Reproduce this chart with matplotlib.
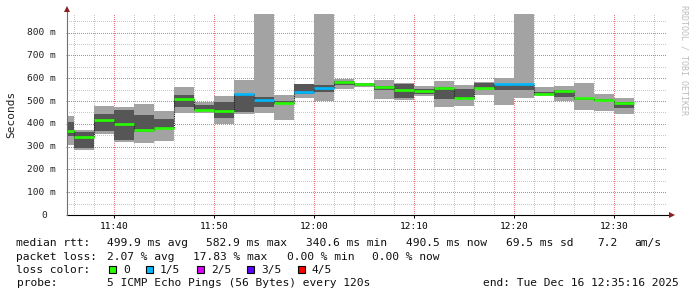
import matplotlib
matplotlib.use('Agg')
from matplotlib import pyplot as plt
from matplotlib.patches import Rectangle
from matplotlib.transforms import offset_copy
import numpy as np

# time window of the graph and bar (2 min step) edges
t_start = "11:35:16"
t_end = "12:35:16"
edges = ["11:35:16", "11:36", "11:38", "11:40", "11:42", "11:44", "11:46", "11:48",
         "11:50", "11:52", "11:54", "11:56", "11:58", "12:00", "12:02", "12:04",
         "12:06", "12:08", "12:10", "12:12", "12:14", "12:16", "12:18", "12:20",
         "12:22", "12:24", "12:26", "12:28", "12:30", "12:32"]

# smoke: sorted pings (ms), median in the middle
rtt_min = [307, 285, 355, 320, 316, 326, 449, 449, 400, 444, 449, 417, 515, 500, 551,
           560, 510, 506, 524, 475, 478, 528, 483, 515, 522, 501, 462, 458, 445]
rtt_lo = [345, 295, 367, 329, 364, 376, 475, 455, 427, 453, 475, 487, 530, 540, 570,
          565, 549, 515, 530, 508, 508, 554, 548, 549, 530, 519, 505, 500, 471]
rtt_med = [368, 341, 417, 399, 372, 382, 511, 462, 455, 530, 506, 492, 538, 555, 584,
           573, 563, 549, 546, 559, 512, 559, 573, 573, 531, 546, 512, 506, 493]
rtt_hi = [409, 363, 443, 461, 439, 421, 527, 483, 495, 532, 519, 498, 575, 572, 590,
          577, 567, 575, 551, 563, 553, 581, 575, 575, 539, 547, 515, 510, 495]
rtt_max = [434, 373, 479, 473, 487, 456, 562, 496, 522, 592, 1000, 527, 576, 1000, 597,
           581, 592, 579, 566, 588, 570, 584, 601, 1000, 561, 566, 580, 531, 513]
loss = [0, 0, 0, 0, 0, 0, 0, 0, 0, 1, 1, 0, 1, 1, 0,
        0, 0, 0, 0, 0, 0, 0, 1, 1, 0, 0, 0, 0, 0]

loss_names = ["0", "1/5", "2/5", "3/5", "4/5"]
loss_colors = ["#26ff00", "#00b8ff", "#dd00ff", "#5e00ff", "#ff0000"]

x_labels = ["11:40", "11:50", "12:00", "12:10", "12:20", "12:30"]
y_ticks = [0, 100, 200, 300, 400, 500, 600, 700, 800]
y_labels = ["0", "100 m", "200 m", "300 m", "400 m", "500 m", "600 m", "700 m", "800 m"]


def mins(t):
    p = [int(v) for v in t.split(':')]
    return p[0] * 60 + p[1] + (p[2] / 60.0 if len(p) > 2 else 0)


W, H = 697, 297
MONO = 'DejaVu Sans Mono'
fig = plt.figure(figsize=(W / 100, H / 100), dpi=100)
ax = fig.add_axes([67 / W, 82 / H, 600 / W, 200.6 / H])

x = np.array([mins(e) for e in edges])
x0, x1 = x[:-1], x[1:]
wid = x1 - x0
lo, hi = np.array(rtt_lo), np.array(rtt_hi)
mn, mx = np.array(rtt_min), np.array(rtt_max)
med = np.array(rtt_med)

ax.bar(x0, mx - mn, bottom=mn, width=wid, align='edge', color='#a3a3a3', lw=0, zorder=2)
ax.bar(x0, hi - lo, bottom=lo, width=wid, align='edge', color='#565656', lw=0, zorder=3)
ax.step(x, np.append(med, med[-1]), where='post',
        color='#202020', lw=0.8, ls=(0, (1, 1)), zorder=4)
ax.hlines(med, x0, x1, colors=[loss_colors[l] for l in loss], lw=1.9, zorder=5)

ax.set_xlim(mins(t_start), mins(t_end))
ax.set_ylim(0, 880)
ax.set_xticks([mins(s) for s in x_labels])
ax.set_xticklabels(x_labels, fontsize=6.8, family=MONO)
ax.set_xticks(np.arange(mins("11:36"), mins("12:35"), 2), minor=True)
ax.set_yticks(y_ticks)
ax.set_yticks(np.arange(50, 900, 100), minor=True)
ax.tick_params(axis='x', which='major', length=2, width=0.7, pad=3, color='black')
ax.tick_params(axis='y', which='major', length=2, width=0.7, direction='inout',
               color='#808080', labelleft=False)
ax.tick_params(which='minor', length=0)
ax.grid(which='major', color='#e07a7a', lw=0.72, ls=(0, (1, 2)), zorder=0,
        antialiased=False)
ax.grid(which='minor', color='#c8c8c8', lw=0.72, ls=(0, (1, 2)), zorder=0,
        antialiased=False)
ax.set_axisbelow(True)
for s in ax.spines.values():
    s.set_visible(False)

# y tick labels
for v, lab in zip(y_ticks, y_labels):
    off = -20 if lab == "0" else -11
    tr = offset_copy(ax.get_yaxis_transform(), fig=fig, x=off, y=0, units='dots')
    ax.text(0, v, lab, transform=tr, ha='right', va='center', fontsize=6.8,
            family=MONO, color='#202020')

# axes with arrows
ax.plot([0, 1.008], [0, 0], transform=ax.transAxes, color='black', lw=0.8,
        clip_on=False, zorder=6)
ax.plot([0, 0], [0, 1.02], transform=ax.transAxes, color='#707070', lw=0.8,
        clip_on=False, zorder=6)
ax.plot([1.0075], [0], marker='>', ms=4.5, color='#8b1f1f', transform=ax.transAxes,
        clip_on=False, zorder=7, mew=0)
ax.plot([0], [1.025], marker='^', ms=4.5, color='#8b1f1f', transform=ax.transAxes,
        clip_on=False, zorder=7, mew=0)

fig.text(11 / W, 1 - 114 / H, "Seconds", rotation=90, ha='center', va='center',
         fontsize=8, family=MONO, color='#202020')
fig.text(684 / W, 1 - 5 / H, "RRDTOOL / TOBI OETIKER", rotation=-90, ha='center',
         va='top', fontsize=6, family=MONO, color='#bdbdbd')


def ftext(px, py, s, ha='left'):
    fig.text(px / W, 1 - (py + 1) / H, s, ha=ha, va='center', fontsize=8.1,
             family=MONO, color='#101010')


ftext(16.5, 242, "median rtt:")
for px, s in zip([107, 206.5, 306, 406, 506, 597, 634],
                 ["499.9 ms avg", "582.9 ms max", "340.6 ms min", "490.5 ms now",
                  "69.5 ms sd", "7.2", "am/s"]):
    ftext(px, 242, s)

ftext(16.5, 255.5, "packet loss:")
for px, s in zip([107, 193, 287, 372],
                 ["2.07 % avg", "17.83 % max", "0.00 % min", "0.00 % now"]):
    ftext(px, 255.5, s)

ftext(16.5, 269, "loss color:")
for i, (name, col) in enumerate(zip(loss_names, loss_colors)):
    bx = [109.3, 145.7, 196.7, 247.3, 298][i]
    fig.patches.append(Rectangle((bx / W, 1 - 273 / H), 7 / W, 7 / H, transform=fig.transFigure,
                                 facecolor=col, edgecolor='black', lw=0.8))
    ftext(bx + 14, 269, name)

ftext(16.5, 282.5, "probe:")
ftext(107, 282.5, "5 ICMP Echo Pings (56 Bytes) every 120s")
ftext(679, 282.5, "end: Tue Dec 16 12:35:16 2025", ha='right')

fig.savefig('out.png', dpi=100)
